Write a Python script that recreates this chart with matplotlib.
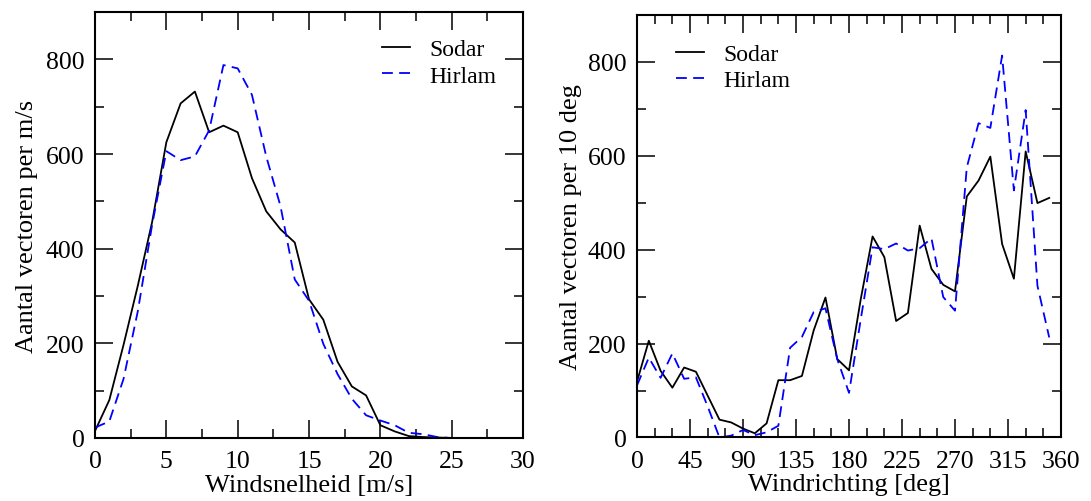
import matplotlib
matplotlib.use("Agg")
import matplotlib.pyplot as plt
from matplotlib.ticker import MultipleLocator

plt.rcParams['font.family'] = ['Liberation Serif', 'DejaVu Serif']
plt.rcParams['mathtext.fontset'] = 'stix'

# ---- data: wind speed histogram ----
speed = list(range(0, 26))
speed_sodar = [15, 80, 197, 322, 456, 625, 707, 732, 646, 660, 646, 549, 479, 441, 413,
               293, 250, 161, 109, 90, 27, 14, 4, 2, 1, 0]
speed_hirlam = [22, 35, 125, 268, 450, 606, 587, 595, 650, 788, 781, 725, 595, 490, 335,
                290, 199, 135, 83, 48, 37, 27, 11, 8, 2, 0]

# ---- data: wind direction histogram ----
direction = list(range(0, 360, 10))
dir_sodar = [119, 206, 142, 106, 149, 140, 89, 38, 32, 19, 9, 30, 122, 122, 131, 228, 298,
             167, 143, 295, 428, 384, 248, 265, 451, 359, 325, 311, 513, 547, 598, 412,
             338, 609, 499, 510]
dir_hirlam = [111, 170, 127, 179, 125, 128, 66, 0, 4, 16, 5, 11, 25, 191, 214, 267, 275,
              167, 95, 252, 405, 401, 413, 398, 403, 424, 299, 270, 575, 669, 659, 813,
              526, 697, 323, 213]

legend_labels = ['Sodar', 'Hirlam']
xlabels = ['Windsnelheid [m/s]', 'Windrichting [deg]']
ylabels = ['Aantal vectoren per m/s', 'Aantal vectoren per 10 deg']

FS = 18.5
LEGFS = 17
LFS = 19
fig = plt.figure(figsize=(10.91, 5.02), dpi=100)
ax1 = fig.add_axes([0.0871, 0.1255, 0.3923, 0.8485])
ax2 = fig.add_axes([0.5839, 0.1265, 0.3886, 0.8422])

def style(ax):
    for s in ax.spines.values():
        s.set_linewidth(1.5)
    ax.tick_params(which='both', direction='in', top=True, right=True,
                   labelsize=FS, width=1.1)
    ax.tick_params(which='major', length=13)
    ax.tick_params(axis='x', which='major', pad=9)
    ax.tick_params(axis='y', which='major', pad=7.5)
    ax.tick_params(which='minor', length=6.5)

# left panel
ax1.plot(speed, speed_sodar, color='black', lw=1.3, label=legend_labels[0])
ax1.plot(speed, speed_hirlam, color='#0000ff', lw=1.3, ls=(0, (6, 3.5)), label=legend_labels[1])
ax1.set_xlim(0, 30)
ax1.set_ylim(0, 900)
ax1.xaxis.set_major_locator(MultipleLocator(5))
ax1.xaxis.set_minor_locator(MultipleLocator(2.5))
ax1.yaxis.set_major_locator(MultipleLocator(200))
ax1.yaxis.set_minor_locator(MultipleLocator(100))
style(ax1)
ax1.set_xlabel(xlabels[0], fontsize=LFS, labelpad=1)
ax1.set_ylabel(ylabels[0], fontsize=LFS, labelpad=6)
ax1.legend(loc='upper left', bbox_to_anchor=(0.648, 0.959), frameon=False, fontsize=LEGFS,
           handlelength=1.2, handletextpad=0.8, labelspacing=0.2, borderaxespad=0)

# right panel
ax2.plot(direction, dir_sodar, color='black', lw=1.3, label=legend_labels[0])
ax2.plot(direction, dir_hirlam, color='#0000ff', lw=1.3, ls=(0, (6, 3.5)), label=legend_labels[1])
ax2.set_xlim(0, 360)
ax2.set_ylim(0, 900)
ax2.xaxis.set_major_locator(MultipleLocator(45))
ax2.xaxis.set_minor_locator(MultipleLocator(15))
ax2.yaxis.set_major_locator(MultipleLocator(200))
ax2.yaxis.set_minor_locator(MultipleLocator(100))
style(ax2)
ax2.set_xlabel(xlabels[1], fontsize=LFS, labelpad=1)
ax2.set_ylabel(ylabels[1], fontsize=LFS, labelpad=4)
ax2.legend(loc='upper left', bbox_to_anchor=(0.07, 0.954), frameon=False, fontsize=LEGFS,
           handlelength=1.2, handletextpad=0.8, labelspacing=0.2, borderaxespad=0)

fig.savefig('out.png', dpi=100)
